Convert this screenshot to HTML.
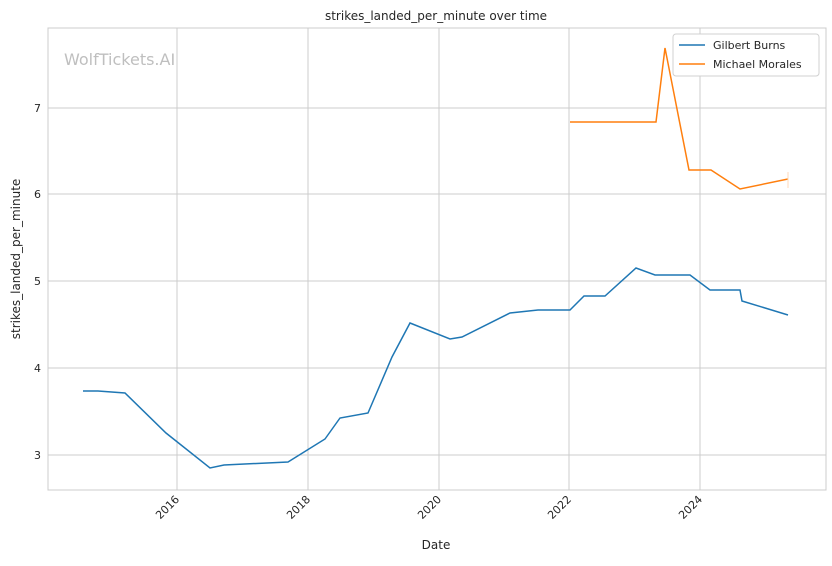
<!DOCTYPE html>
<html><head><meta charset="utf-8"><style>
body{margin:0;background:#fff;}
svg text{font-family:"DejaVu Sans","Liberation Sans",sans-serif;fill:#262626;}
</style></head><body>
<svg width="832" height="561" viewBox="0 0 832 561" xmlns="http://www.w3.org/2000/svg">
<rect width="832" height="561" fill="#fff"/>
<g stroke="#cccccc" stroke-width="1">
<line x1="177" y1="28" x2="177" y2="490"/>
<line x1="308" y1="28" x2="308" y2="490"/>
<line x1="439" y1="28" x2="439" y2="490"/>
<line x1="569" y1="28" x2="569" y2="490"/>
<line x1="700" y1="28" x2="700" y2="490"/>
<line x1="48" y1="108" x2="826" y2="108"/>
<line x1="48" y1="194" x2="826" y2="194"/>
<line x1="48" y1="281" x2="826" y2="281"/>
<line x1="48" y1="368" x2="826" y2="368"/>
<line x1="48" y1="455" x2="826" y2="455"/>
</g>
<rect x="48" y="28" width="778" height="462" fill="none" stroke="#cccccc" stroke-width="1"/>
<text x="64" y="65" font-size="16" style="fill:#bfbfbf">WolfTickets.AI</text>
<polyline fill="none" stroke="#1f77b4" stroke-width="1.5" points="83,391 98,391 125,393 166,433 210,468 224,465 288,462 325,439 340,418 368,413 392,357 410,323 450,339 462,337 510,313 538,310 570,310 584,296 605,296 636,268 655,275 690,275 710,290 740,290 742,301 788,315"/>
<polyline fill="none" stroke="#ff7f0e" stroke-width="1.5" points="570,122 656,122 665,48 689,170 711,170 740,189 788,179"/>
<line x1="788" y1="172" x2="788" y2="188" stroke="#ffd9b8" stroke-width="1"/>
<g font-size="11" text-anchor="end">
<text x="41" y="112">7</text><text x="41" y="198">6</text><text x="41" y="285">5</text><text x="41" y="372">4</text><text x="41" y="459">3</text>
</g>
<g font-size="11" text-anchor="end">
<text transform="translate(180,500) rotate(-45)">2016</text>
<text transform="translate(311,500) rotate(-45)">2018</text>
<text transform="translate(442,500) rotate(-45)">2020</text>
<text transform="translate(572,500) rotate(-45)">2022</text>
<text transform="translate(703,500) rotate(-45)">2024</text>
</g>
<text x="436" y="549" font-size="12" text-anchor="middle">Date</text>
<text transform="translate(20,259) rotate(-90)" font-size="12" text-anchor="middle">strikes_landed_per_minute</text>
<text x="436" y="20" font-size="12" text-anchor="middle">strikes_landed_per_minute over time</text>
<rect x="673" y="34" width="146" height="42" rx="3" fill="#fff" stroke="#d0d0d0"/>
<line x1="679" y1="45" x2="705" y2="45" stroke="#1f77b4" stroke-width="1.5"/>
<text x="713" y="49" font-size="11">Gilbert Burns</text>
<line x1="679" y1="64" x2="705" y2="64" stroke="#ff7f0e" stroke-width="1.5"/>
<text x="713" y="68" font-size="11">Michael Morales</text>
</svg>
</body></html>
